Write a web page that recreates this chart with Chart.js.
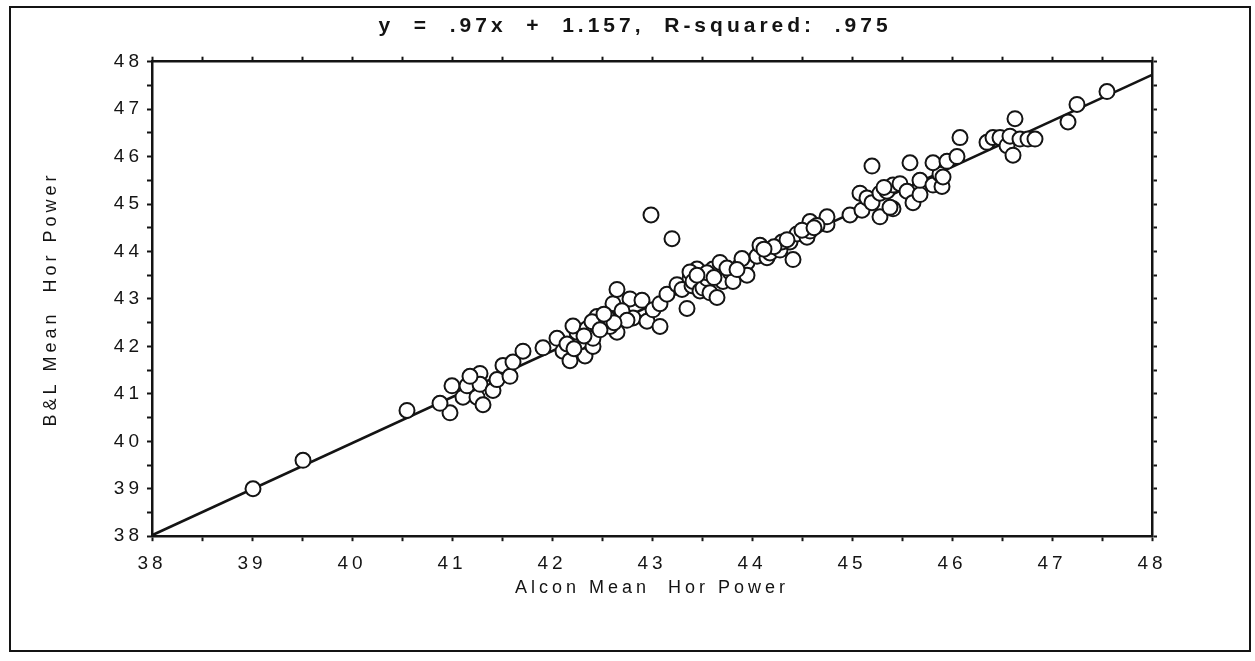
<!DOCTYPE html>
<html>
<head>
<meta charset="utf-8">
<script src="https://cdn.jsdelivr.net/npm/chart.js@4"></script>
<style>
html,body{margin:0;padding:0;background:#fff;}
#wrap{width:1255px;height:661px;position:relative;}
</style>
</head>
<body>
<div id="wrap"><canvas id="c"></canvas></div>
<script>
// ---- data ----
const titleText = 'y  =  .97x  +  1.157,  R-squared:  .975';
const xAxisTitle = 'Alcon Mean  Hor Power';
const yAxisTitle = 'B&L Mean  Hor Power';
const xTickLabels = [38,39,40,41,42,43,44,45,46,47,48];
const yTickLabels = [38,39,40,41,42,43,44,45,46,47,48];
const fitX = [38, 48];
const fitY = [38.02, 47.72];
const alconX = [
 39.01,39.51,40.55,40.98,40.88,41.00,41.11,41.15,41.25,41.31,41.28,41.28,41.18,41.41,41.45,41.51,41.58,41.61,41.71,41.91,
 42.05,42.11,42.18,42.33,42.28,42.25,42.21,42.35,42.41,42.41,42.45,42.51,42.65,42.61,42.65,42.78,42.81,42.90,42.95,43.01,
 43.08,43.08,43.15,43.25,43.38,43.45,43.35,42.99,43.20,42.45,42.55,42.40,42.58,42.15,42.22,43.30,43.40,43.38,43.41,43.48,
 43.51,43.55,43.58,43.61,43.65,43.68,43.71,43.78,43.81,43.88,43.95,43.95,44.05,44.08,44.15,44.18,44.28,44.38,44.41,44.45,
 44.55,44.58,44.58,44.75,44.75,44.98,45.08,45.10,45.15,45.20,45.28,45.28,45.35,45.41,45.41,45.48,45.55,45.61,45.68,45.68,
 45.81,45.88,45.20,45.58,45.81,45.38,45.90,45.91,45.95,46.05,46.08,46.35,46.41,46.48,46.55,46.58,46.61,46.63,46.68,46.76,
 46.83,47.16,47.25,47.55,44.30,44.50,43.55,43.75,44.65,45.32,43.90,44.22,42.70,42.75,
 42.48,42.62,42.52,43.45,43.62,43.85,44.35,44.62,44.12,42.32
];
const blY = [
 39.00,39.60,40.65,40.60,40.80,41.17,40.93,41.17,40.93,40.77,41.43,41.20,41.37,41.07,41.30,41.60,41.37,41.67,41.90,41.97,
 42.17,41.90,41.70,41.80,42.10,42.30,42.43,42.37,42.00,42.17,42.63,42.50,42.30,42.90,43.20,43.00,42.60,42.97,42.53,42.77,
 42.42,42.90,43.10,43.30,43.43,43.63,42.80,44.77,44.27,42.45,42.62,42.52,42.42,42.05,41.95,43.20,43.28,43.57,43.37,43.17,
 43.23,43.43,43.13,43.63,43.03,43.77,43.37,43.57,43.37,43.70,43.77,43.50,43.90,44.13,43.87,43.97,44.03,44.20,43.83,44.37,
 44.30,44.43,44.63,44.57,44.73,44.77,45.23,44.87,45.13,45.03,44.73,45.23,45.27,44.90,45.40,45.43,45.27,45.03,45.20,45.50,
 45.40,45.63,45.80,45.87,45.87,44.93,45.37,45.57,45.90,46.00,46.40,46.30,46.40,46.40,46.23,46.43,46.03,46.80,46.37,46.37,
 46.37,46.73,47.10,47.37,44.20,44.45,43.55,43.65,44.55,45.35,43.85,44.10,42.75,42.55,
 42.35,42.50,42.68,43.50,43.45,43.62,44.25,44.50,44.05,42.22
];

// ---- chart ----
const INK = '#141414';
const FONT = "'Liberation Sans', Arial, Helvetica, sans-serif";
const points = alconX.map((x, i) => ({x: x, y: blY[i]}));
const fitLine = fitX.map((x, i) => ({x: x, y: fitY[i]}));

const spacingPlugin = {
  id: 'spacing',
  beforeUpdate(chart){ chart.ctx.letterSpacing = '4px'; },
  beforeDraw(chart){ chart.ctx.letterSpacing = '4px'; },
  afterDraw(chart){
    const ctx = chart.ctx;
    ctx.letterSpacing = '0px';
    ctx.save();
    ctx.strokeStyle = INK;
    ctx.lineWidth = 2;
    ctx.strokeRect(10, 7, 1240, 644);
    ctx.restore();
  }
};

function intLabel(list){
  return function(v){ return list.includes(v) ? String(v) : ''; };
}

const baseGrid = {drawOnChartArea:false, drawTicks:true, tickLength:5, tickWidth:2, tickColor:INK};
const baseBorder = {display:true, color:INK, width:2.5};

new Chart(document.getElementById('c'), {
  type: 'scatter',
  data: {
    datasets: [
      {
        type: 'scatter',
        data: points,
        pointStyle: 'circle',
        pointRadius: 7.5,
        pointHoverRadius: 7.5,
        pointBackgroundColor: '#ffffff',
        pointBorderColor: INK,
        pointBorderWidth: 2,
        order: 0
      },
      {
        type: 'line',
        data: fitLine,
        borderColor: INK,
        borderWidth: 2.5,
        pointRadius: 0,
        fill: false,
        tension: 0,
        order: 1
      }
    ]
  },
  options: {
    responsive: true,
    maintainAspectRatio: false,
    animation: false,
    devicePixelRatio: 1,
    layout: {padding: {left: 15, right: 0, top: 0, bottom: 58.8}},
    plugins: {
      legend: {display: false},
      tooltip: {enabled: false},
      title: {
        display: true,
        text: titleText,
        color: INK,
        font: {family: FONT, size: 21, weight: 'bold'},
        padding: {top: 14, bottom: 10}
      }
    },
    scales: {
      x: {
        type: 'linear', position: 'bottom', min: 38, max: 48,
        ticks: {stepSize: 0.5, autoSkip: false, maxRotation: 0, color: INK, padding: 11,
                font: {family: FONT, size: 19}, callback: intLabel(xTickLabels)},
        grid: baseGrid, border: baseBorder,
        title: {display: true, text: xAxisTitle, color: INK, font: {family: FONT, size: 18}, padding: {top: 0, bottom: 3.4}},
        afterFit(s){ s.height = 66; }
      },
      y: {
        type: 'linear', position: 'left', min: 38, max: 48,
        ticks: {stepSize: 0.5, autoSkip: false, color: INK, padding: 4,
                font: {family: FONT, size: 19}, callback: intLabel(yTickLabels)},
        grid: baseGrid, border: baseBorder,
        title: {display: true, text: yAxisTitle, color: INK, font: {family: FONT, size: 18}, padding: {top: 25, bottom: 0}},
        afterFit(s){ s.width = 137; }
      },
      x2: {
        type: 'linear', position: 'top', min: 38, max: 48,
        ticks: {stepSize: 0.5, autoSkip: false, display: false},
        grid: baseGrid, border: baseBorder,
        afterFit(s){ s.height = 12.5; }
      },
      y2: {
        type: 'linear', position: 'right', min: 38, max: 48,
        ticks: {stepSize: 0.5, autoSkip: false, display: false},
        grid: baseGrid, border: baseBorder,
        afterFit(s){ s.width = 103; }
      }
    }
  },
  plugins: [spacingPlugin]
});
</script>
</body>
</html>
